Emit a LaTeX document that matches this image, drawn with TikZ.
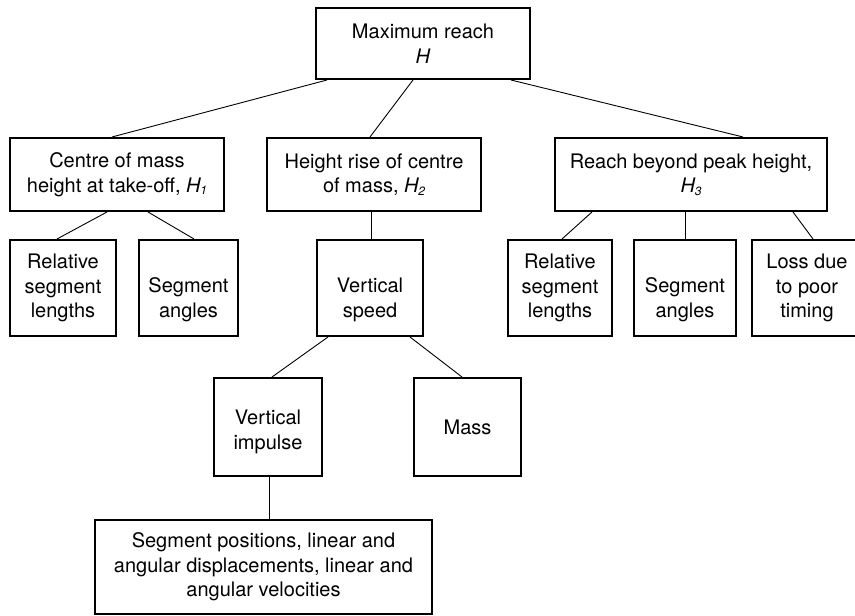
\documentclass[tikz,border=0pt]{standalone}
\usepackage{fontspec}
\setmainfont{TeX Gyre Heros}
\usepackage{tikz}
\usetikzlibrary{positioning,calc}
\newcommand{\Hsub}[1]{\textit{H}\kern-0.8pt\raisebox{-2.5pt}{\fontsize{12}{12}\selectfont\itshape #1}}
\newcommand{\twolow}[3]{\raisebox{-#1}[\height][\depth]{\begin{tabular}{@{}c@{}}#2\\#3\end{tabular}}}
\begin{document}
\begin{tikzpicture}[x=1pt,y=1pt,
    every node/.style={font=\fontsize{20}{24.5}\selectfont},
    factor/.style={draw,line width=2pt,align=center,inner sep=2pt},
    link/.style={line width=0.9pt}]
  \useasboundingbox (0,0) rectangle (855,616);
  \clip (0,0) rectangle (855,616);
  \node[factor,minimum width=214,minimum height=71] (reach) at (423,572.5) {Maximum reach\\\textit{H}};
  \node[factor,minimum width=214,minimum height=73] (hone) at (117,441.5) {Centre of mass\\height at take-off, \Hsub{1}};
  \node[factor,minimum width=214,minimum height=73] (htwo) at (374,441.5) {Height rise of centre\\of mass, \Hsub{2}};
  \node[factor,minimum width=272,minimum height=73] (hthree) at (691,441.5) {Reach beyond peak height,\\\Hsub{3}};
  \node[factor,minimum width=106,minimum height=96] (rellenA) at (63,328) {Relative\\segment\\lengths};
  \node[factor,minimum width=99,minimum height=96] (segangA) at (188.5,328) {\twolow{12pt}{Segment}{angles}};
  \node[factor,minimum width=106,minimum height=96] (vspeed) at (370,328) {\twolow{12pt}{Vertical}{speed}};
  \node[factor,minimum width=104,minimum height=96] (rellenB) at (560,328) {Relative\\segment\\lengths};
  \node[factor,minimum width=102,minimum height=96] (segangB) at (685,328) {\twolow{12pt}{Segment}{angles}};
  \node[factor,minimum width=110,minimum height=96] (loss) at (807,328) {Loss due\\to poor\\timing};
  \node[factor,minimum width=108,minimum height=98] (vimpulse) at (268,189) {\twolow{5pt}{Vertical}{impulse}};
  \node[factor,minimum width=107,minimum height=98] (mass) at (467.5,189) {Mass};
  \node[factor,minimum width=337,minimum height=94] (kinem) at (263.5,49) {Segment positions, linear and\\angular displacements, linear and\\angular velocities};
  \draw[link] ([xshift=12pt]reach.south west) -- ([xshift=-5pt]hone.north);
  \draw[link] ([xshift=-10pt]reach.south) -- ([xshift=-4pt]htwo.north);
  \draw[link] ([xshift=-20pt]reach.south east) -- ([xshift=52pt]hthree.north);
  \draw[link] ([xshift=-10pt]hone.south) -- ([xshift=-6pt]rellenA.north);
  \draw[link] ([xshift=31pt]hone.south) -- ([xshift=5.5pt]segangA.north);
  \draw[link] ([xshift=1pt]vspeed.north) -- ([xshift=1pt]vspeed.north |- htwo.south);
  \draw[link] ([xshift=-99pt]hthree.south) -- ([xshift=2pt]rellenB.north);
  \draw[link] (segangB.north) -- (segangB.north |- hthree.south);
  \draw[link] ([xshift=102pt]hthree.south) -- ([xshift=6pt]loss.north);
  \draw[link] ([xshift=-42pt]vspeed.south) -- ([xshift=4pt]vimpulse.north);
  \draw[link] ([xshift=40pt]vspeed.south) -- ([xshift=-5.5pt]mass.north);
  \draw[link] ([xshift=1pt]vimpulse.south) -- ([xshift=1pt]vimpulse.south |- kinem.north);
\end{tikzpicture}
\end{document}
